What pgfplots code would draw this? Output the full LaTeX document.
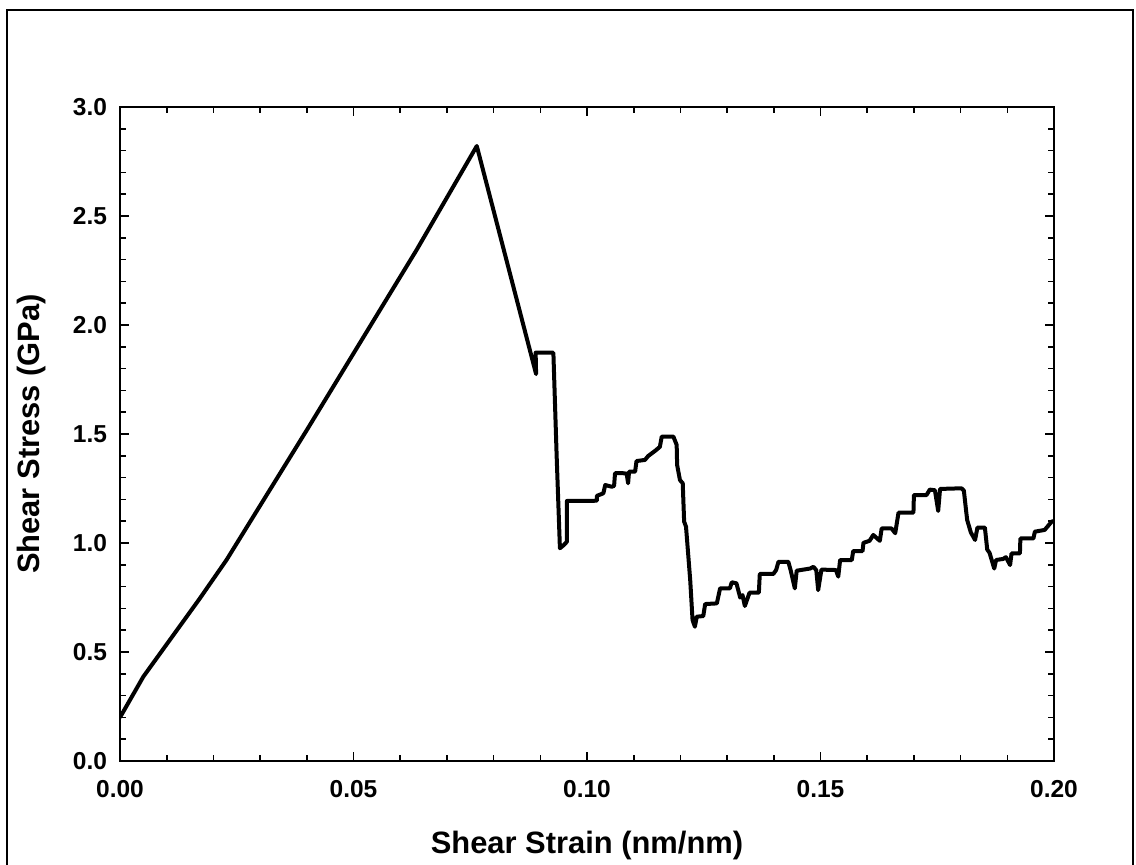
\documentclass[border=0pt]{standalone}
\usepackage{fontspec}
\setmainfont{Liberation Sans}
\usepackage{pgfplots}
\pgfplotsset{compat=1.18}
\begin{document}
\begin{tikzpicture}
\begin{axis}[
  at={(60bp,-380.5bp)}, anchor=south west,
  scale only axis, width=467bp, height=327bp,
  xmin=0, xmax=0.2, ymin=0, ymax=3,
  xtick={0,0.05,0.1,0.15,0.2}, ytick={0,0.5,...,3},
  minor x tick num=4, minor y tick num=4,
  tick align=inside,
  major tick length=4.7bp, minor tick length=3bp,
  axis line style={line width=1bp},
  every tick/.style={black, line width=0.8bp},
  tick label style={font=\fontsize{12.3}{14}\selectfont\bfseries},
  xticklabel style={anchor=base, yshift=-18bp,
    /pgf/number format/.cd, fixed, fixed zerofill, precision=2, assume math mode=true},
  yticklabel style={anchor=east, xshift=-3bp,
    /pgf/number format/.cd, fixed, fixed zerofill, precision=1, assume math mode=true},
  scaled x ticks=false,
  xlabel={Shear Strain (nm/nm)},
  ylabel={Shear Stress (GPa)},
  every axis x label/.style={at={(axis description cs:0.5,-0.1407)}, anchor=base,
    font=\fontsize{15.5}{18}\selectfont\bfseries},
  every axis y label/.style={at={(axis description cs:-0.0867,0.5)}, rotate=90, anchor=base,
    font=\fontsize{15.5}{18}\selectfont\bfseries},
]
\addplot[black, line width=2bp, line join=round] table {
x y
0.0000 0.200
0.0050 0.387
0.0171 0.746
0.0228 0.922
0.0400 1.518
0.0635 2.344
0.0764 2.821
0.0891 1.775
0.0890 1.873
0.0928 1.873
0.0935 1.400
0.0942 0.976
0.0950 0.990
0.0957 1.006
0.0957 1.193
0.0989 1.193
0.1021 1.194
0.1021 1.216
0.1035 1.228
0.1039 1.266
0.1053 1.258
0.1058 1.262
0.1060 1.320
0.1078 1.320
0.1085 1.318
0.1088 1.274
0.1090 1.327
0.1103 1.327
0.1106 1.376
0.1124 1.381
0.1131 1.399
0.1146 1.423
0.1156 1.441
0.1160 1.488
0.1185 1.488
0.1192 1.450
0.1193 1.358
0.1199 1.289
0.1205 1.274
0.1208 1.098
0.1212 1.075
0.1221 0.830
0.1226 0.647
0.1231 0.616
0.1235 0.662
0.1249 0.665
0.1253 0.720
0.1278 0.723
0.1285 0.792
0.1306 0.792
0.1310 0.820
0.1320 0.815
0.1328 0.750
0.1333 0.761
0.1338 0.711
0.1348 0.772
0.1368 0.772
0.1370 0.858
0.1399 0.858
0.1405 0.876
0.1410 0.914
0.1431 0.914
0.1436 0.876
0.1445 0.792
0.1449 0.873
0.1478 0.883
0.1485 0.891
0.1491 0.875
0.1495 0.784
0.1502 0.878
0.1533 0.876
0.1538 0.846
0.1542 0.922
0.1567 0.922
0.1570 0.963
0.1590 0.963
0.1592 1.001
0.1605 1.010
0.1613 1.037
0.1627 1.010
0.1631 1.067
0.1652 1.067
0.1660 1.045
0.1667 1.139
0.1699 1.139
0.1700 1.220
0.1727 1.220
0.1734 1.245
0.1745 1.242
0.1752 1.147
0.1756 1.248
0.1802 1.251
0.1807 1.240
0.1814 1.106
0.1822 1.048
0.1831 1.014
0.1836 1.071
0.1852 1.071
0.1857 0.970
0.1862 0.955
0.1872 0.883
0.1876 0.922
0.1891 0.927
0.1897 0.935
0.1906 0.899
0.1909 0.952
0.1927 0.952
0.1928 1.021
0.1956 1.021
0.1959 1.052
0.1980 1.060
0.1995 1.098
0.2000 1.101
};
\end{axis}
\draw[line width=1bp] (3.5bp,-440bp) -- (3.5bp,-5bp) -- (566.5bp,-5bp) -- (566.5bp,-440bp);
\pgfresetboundingbox
\path[use as bounding box] (0,0) rectangle (568bp,-432.5bp);
\end{tikzpicture}
\end{document}
